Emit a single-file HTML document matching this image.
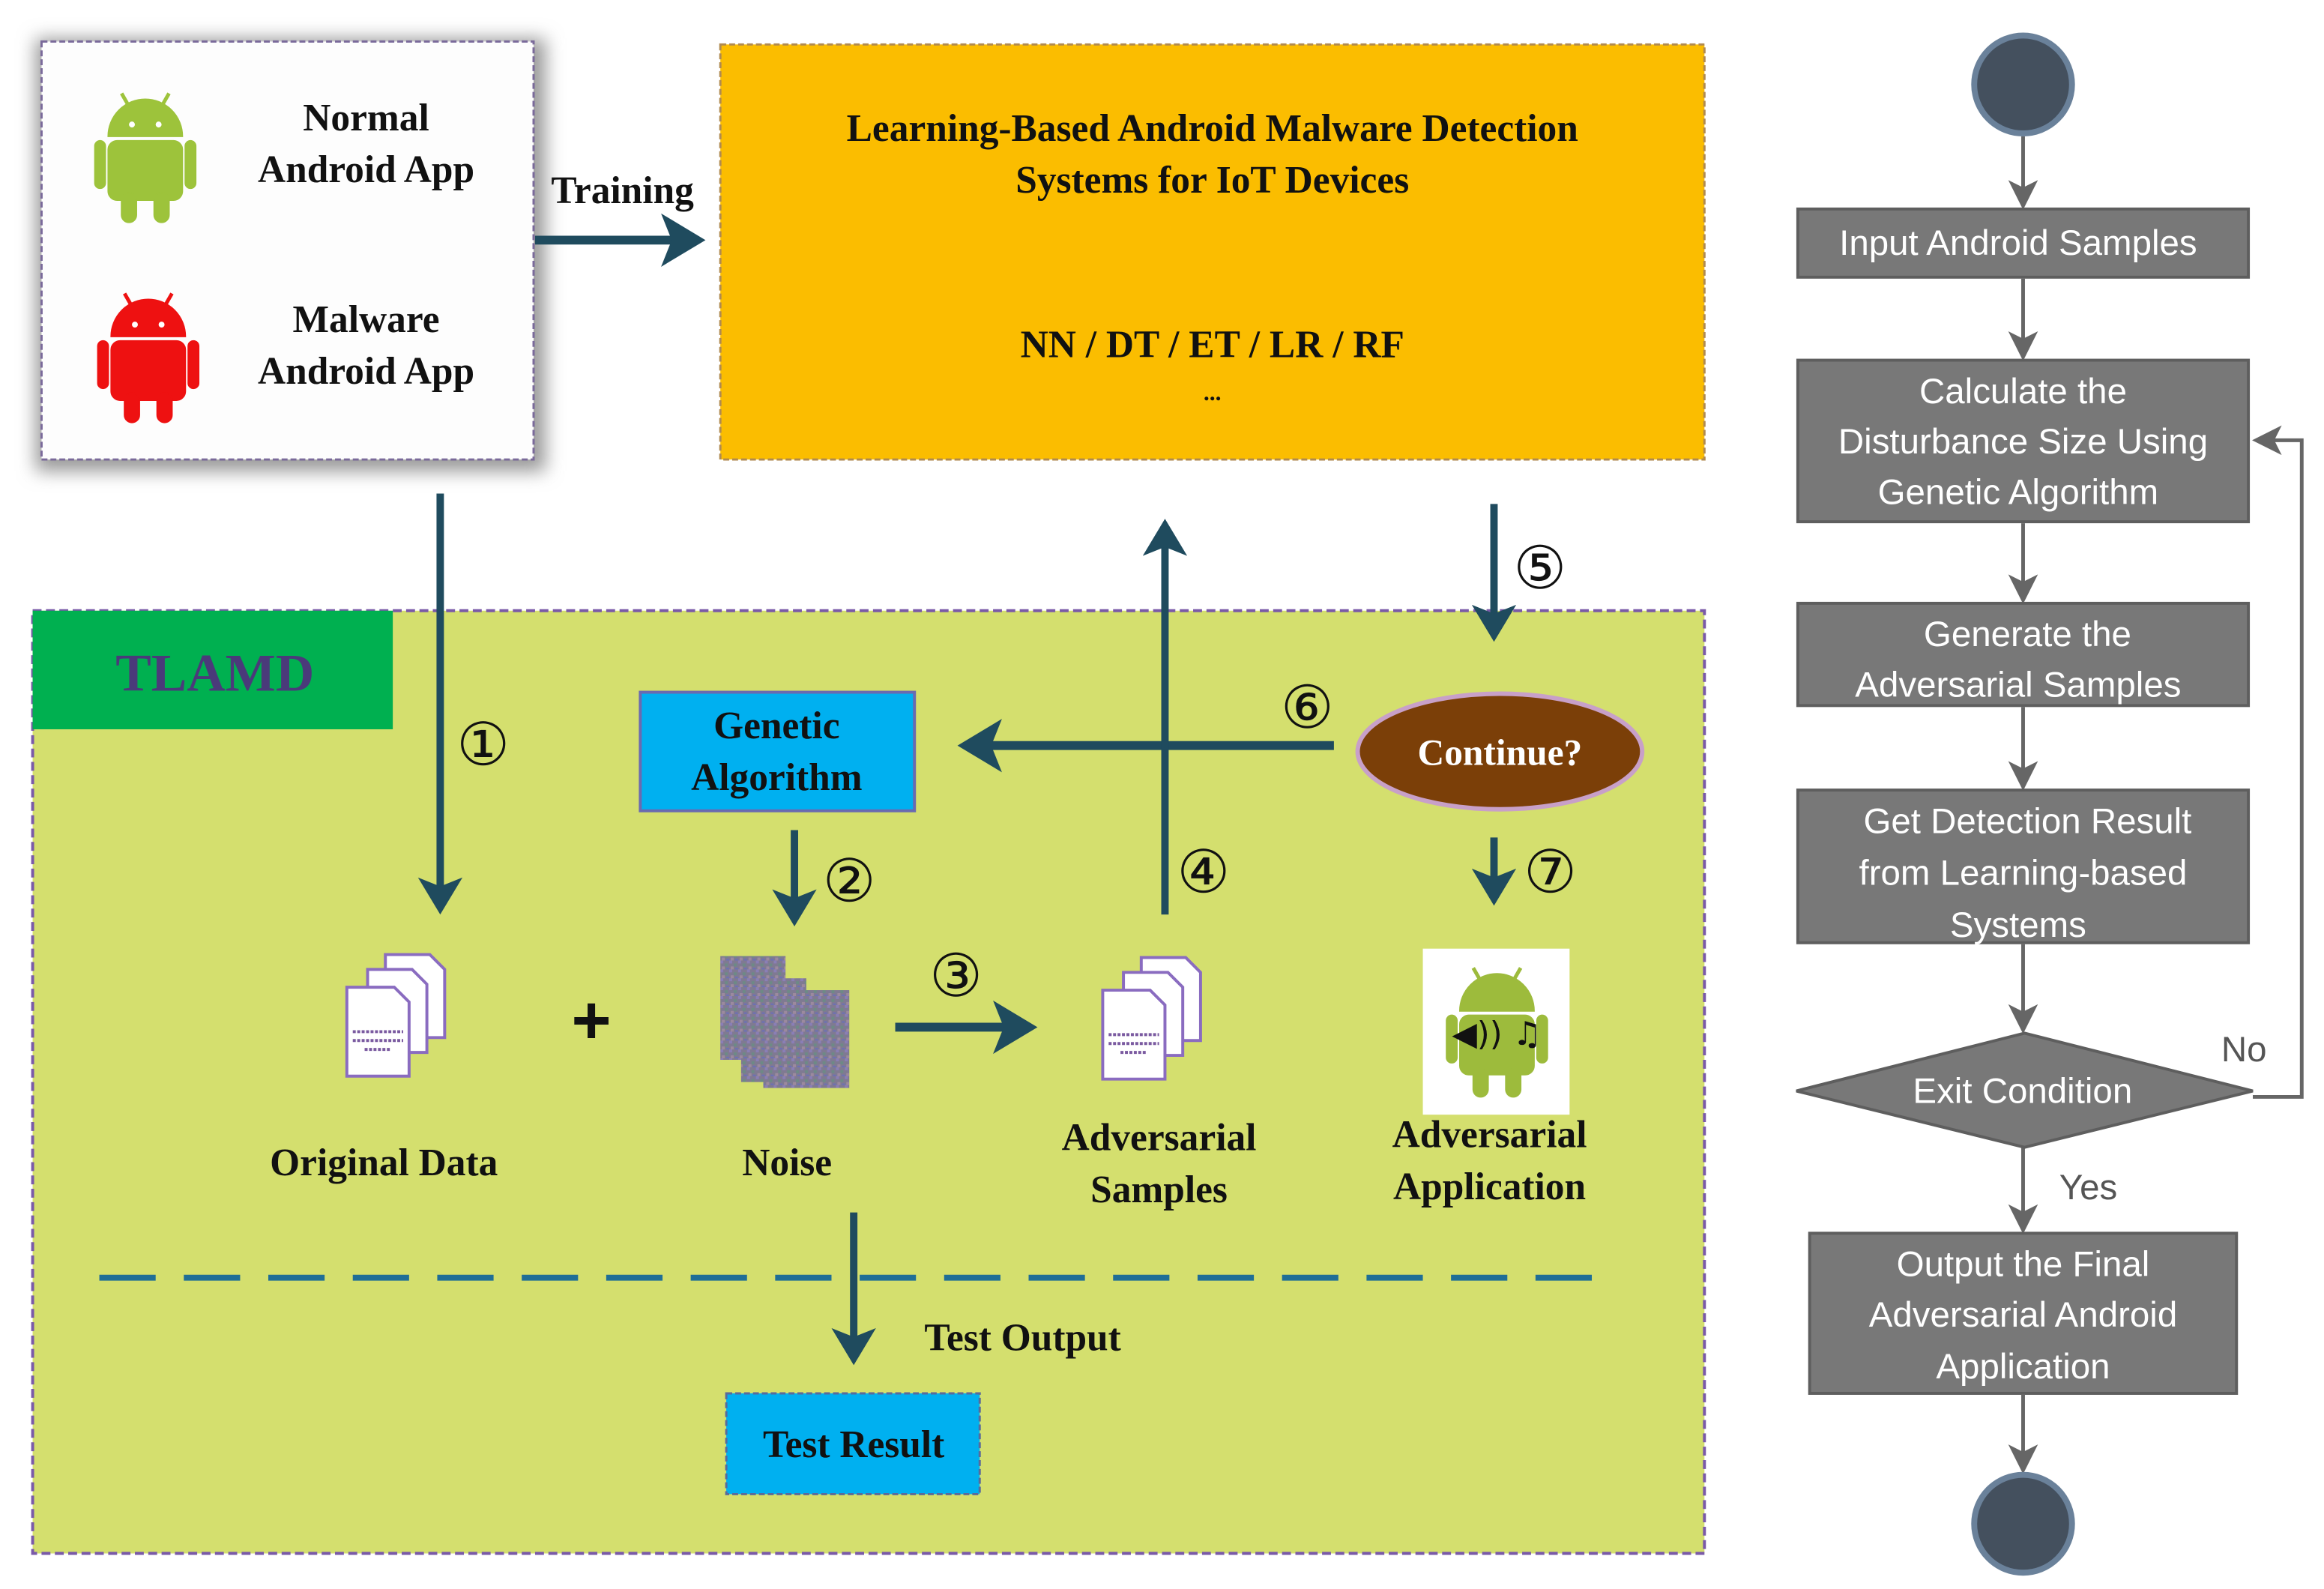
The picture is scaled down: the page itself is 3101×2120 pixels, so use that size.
<!DOCTYPE html>
<html><head><meta charset="utf-8"><style>
html,body{margin:0;padding:0;background:#fff;}
svg{display:block;}
.t{font-family:"Liberation Serif",serif;font-weight:bold;fill:#111;}
.f{font-family:"Liberation Sans",sans-serif;fill:#fff;font-size:24px;text-anchor:middle;}
.n{font-family:"DejaVu Sans",sans-serif;font-size:40px;fill:#111;text-anchor:middle;}
</style></head><body>
<svg width="3101" height="2120" viewBox="0 0 1568 1072" xmlns="http://www.w3.org/2000/svg">
<defs>
<marker id="ah" markerWidth="6" markerHeight="6" refX="4" refY="3" orient="auto" markerUnits="strokeWidth"><path d="M0,0 L5,3 L0,6 L1.2,3 z" fill="#1f4b5e"/></marker>
<marker id="ag" markerWidth="8" markerHeight="8" refX="7" refY="4" orient="auto" markerUnits="strokeWidth"><path d="M0,0 L8,4 L0,8 L2,4 z" fill="#666"/></marker>
<filter id="sh" x="-10%" y="-10%" width="120%" height="120%"><feGaussianBlur stdDeviation="6"/></filter>
<pattern id="nz" width="6" height="6" patternUnits="userSpaceOnUse"><rect width="6" height="6" fill="#7f7a92"/><rect x="0" y="0" width="2" height="2" fill="#8a7eb6"/><rect x="3" y="2" width="2" height="2" fill="#6d8a86"/><rect x="1" y="4" width="2" height="2" fill="#9c8a9e"/><rect x="4" y="5" width="2" height="1" fill="#6b6fb8"/></pattern>
<g id="droid">
<path d="M-25,-8 A25,25 0 0 1 25,-8 Z"/>
<line x1="-12" y1="-30" x2="-16" y2="-37" stroke-width="2.5"/><line x1="12" y1="-30" x2="16" y2="-37" stroke-width="2.5"/>
<rect x="-25" y="-5" width="50" height="40" rx="6"/>
<rect x="-34" y="-5" width="7" height="32" rx="3.5"/><rect x="27" y="-5" width="7" height="32" rx="3.5"/>
<rect x="-16" y="30" width="10" height="20" rx="5"/><rect x="6" y="30" width="10" height="20" rx="5"/>
</g>
<g id="docs">
<path d="M26,0 h30 l10,10 v46 h-40 z" fill="#fff" stroke="#8a6cc0" stroke-width="2"/>
<path d="M14,10 h30 l10,10 v46 h-40 z" fill="#fff" stroke="#8a6cc0" stroke-width="2"/>
<path d="M0,22 h32 l10,10 v50 h-42 z" fill="#fff" stroke="#8a6cc0" stroke-width="2"/>
<line x1="4" y1="52" x2="38" y2="52" stroke="#7a5aa0" stroke-width="2" stroke-dasharray="2,1"/>
<line x1="4" y1="58" x2="38" y2="58" stroke="#7a5aa0" stroke-width="2" stroke-dasharray="2,1"/>
<line x1="12" y1="64" x2="30" y2="64" stroke="#7a5aa0" stroke-width="2" stroke-dasharray="2,1"/>
</g>
</defs>
<rect width="1568" height="1072" fill="#fff"/>
<rect x="24" y="26" width="344" height="292" fill="#999" filter="url(#sh)"/>
<rect x="28" y="28" width="332" height="282" fill="#fdfdfd" stroke="#7a6a9a" stroke-width="1.5" stroke-dasharray="4,2"/>
<g fill="#9dc33b" stroke="#9dc33b"><use href="#droid" x="98" y="100"/></g>
<g fill="#ee1111" stroke="#ee1111"><use href="#droid" x="100" y="235"/></g>
<circle cx="89" cy="84" r="2" fill="#fff"/><circle cx="107" cy="84" r="2" fill="#fff"/>
<circle cx="91" cy="219" r="2" fill="#fff"/><circle cx="109" cy="219" r="2" fill="#fff"/>
<text class="t" font-size="26" text-anchor="middle"><tspan x="247" y="88">Normal</tspan><tspan x="247" y="123">Android App</tspan><tspan x="247" y="224">Malware</tspan><tspan x="247" y="259">Android App</tspan></text>
<text class="t" font-size="26" x="420" y="137" text-anchor="middle">Training</text>
<line x1="361" y1="162" x2="470" y2="162" stroke="#1f4b5e" stroke-width="6" marker-end="url(#ah)"/>
<rect x="486" y="30" width="664" height="280" fill="#fbbd00" stroke="#b08a50" stroke-width="1.5" stroke-dasharray="4,2"/>
<text class="t" font-size="26" text-anchor="middle"><tspan x="818" y="95">Learning-Based Android Malware Detection</tspan><tspan x="818" y="130">Systems for IoT Devices</tspan><tspan x="818" y="241">NN / DT  / ET  / LR / RF</tspan><tspan x="818" y="270" font-size="16">...</tspan></text>
<rect x="22" y="412" width="1128" height="636" fill="#d4df6e" stroke="#7a5aa8" stroke-width="2" stroke-dasharray="6,3"/>
<rect x="22" y="412" width="243" height="80" fill="#00b050"/>
<text x="145" y="466" font-family="Liberation Serif,serif" font-weight="bold" font-size="36" fill="#4a3a7a" text-anchor="middle">TLAMD</text>
<line x1="297" y1="333" x2="297" y2="612" stroke="#1f4b5e" stroke-width="5" marker-end="url(#ah)"/>
<text class="n" x="326" y="516">①</text>
<rect x="432" y="467" width="185" height="80" fill="#00b0f0" stroke="#6a6ab0" stroke-width="2"/>
<text class="t" font-size="26" text-anchor="middle"><tspan x="524" y="498">Genetic</tspan><tspan x="524" y="533">Algorithm</tspan></text>
<ellipse cx="1012" cy="507" rx="96" ry="39" fill="#7b3f08" stroke="#c8a0c8" stroke-width="3"/>
<text x="1012" y="516" font-family="Liberation Serif,serif" font-weight="bold" font-size="25" fill="#fff" text-anchor="middle">Continue?</text>
<line x1="900" y1="503" x2="652" y2="503" stroke="#1f4b5e" stroke-width="6" marker-end="url(#ah)"/>
<text class="n" x="882" y="491">⑥</text>
<line x1="786" y1="617" x2="786" y2="355" stroke="#1f4b5e" stroke-width="5" marker-end="url(#ah)"/>
<text class="n" x="812" y="602">④</text>
<line x1="1008" y1="340" x2="1008" y2="428" stroke="#1f4b5e" stroke-width="5" marker-end="url(#ah)"/>
<text class="n" x="1039" y="397">⑤</text>
<line x1="1008" y1="565" x2="1008" y2="606" stroke="#1f4b5e" stroke-width="5" marker-end="url(#ah)"/>
<text class="n" x="1046" y="602">⑦</text>
<line x1="536" y1="560" x2="536" y2="620" stroke="#1f4b5e" stroke-width="5" marker-end="url(#ah)"/>
<text class="n" x="573" y="608">②</text>
<line x1="604" y1="693" x2="694" y2="693" stroke="#1f4b5e" stroke-width="6" marker-end="url(#ah)"/>
<text class="n" x="645" y="672">③</text>
<use href="#docs" x="234" y="644"/>
<text x="399" y="704" font-family="Liberation Sans,sans-serif" font-weight="bold" font-size="46" fill="#111" text-anchor="middle">+</text>
<rect x="486" y="645" width="44" height="70" fill="url(#nz)"/>
<rect x="500" y="660" width="44" height="70" fill="url(#nz)"/>
<rect x="515" y="668" width="58" height="66" fill="url(#nz)"/>
<use href="#docs" x="744" y="646"/>
<rect x="960" y="640" width="99" height="112" fill="#fff"/>
<g fill="#9dbb3c" stroke="#9dbb3c"><use href="#droid" x="1010" y="690"/></g>
<text x="1010" y="705" font-family="DejaVu Sans,sans-serif" font-size="22" fill="#111" text-anchor="middle">◀)) ♫</text>
<text class="t" font-size="26" text-anchor="middle"><tspan x="259" y="793">Original Data</tspan><tspan x="531" y="793">Noise</tspan><tspan x="782" y="776">Adversarial</tspan><tspan x="782" y="811">Samples</tspan><tspan x="1005" y="774">Adversarial</tspan><tspan x="1005" y="809">Application</tspan></text>
<line x1="67" y1="862" x2="1092" y2="862" stroke="#1f6e96" stroke-width="4" stroke-dasharray="38,19"/>
<line x1="576" y1="818" x2="576" y2="916" stroke="#1f4b5e" stroke-width="5" marker-end="url(#ah)"/>
<text class="t" font-size="26" x="690" y="911" text-anchor="middle">Test Output</text>
<rect x="490" y="940" width="171" height="68" fill="#00b0f0" stroke="#5a6a9a" stroke-width="1.5" stroke-dasharray="4,2"/>
<text class="t" font-size="26" x="576" y="983" text-anchor="middle">Test Result</text>
<g stroke="#666" stroke-width="2.5" fill="none">
<line x1="1365" y1="92" x2="1365" y2="139" marker-end="url(#ag)"/>
<line x1="1365" y1="188" x2="1365" y2="241" marker-end="url(#ag)"/>
<line x1="1365" y1="353" x2="1365" y2="405" marker-end="url(#ag)"/>
<line x1="1365" y1="477" x2="1365" y2="531" marker-end="url(#ag)"/>
<line x1="1365" y1="637" x2="1365" y2="695" marker-end="url(#ag)"/>
<line x1="1365" y1="774" x2="1365" y2="830" marker-end="url(#ag)"/>
<line x1="1365" y1="941" x2="1365" y2="992" marker-end="url(#ag)"/>
<polyline points="1520,740 1553,740 1553,297 1522,297" marker-end="url(#ag)"/>
</g>
<circle cx="1365" cy="57" r="33" fill="#44505e" stroke="#6a819a" stroke-width="4"/>
<circle cx="1365" cy="1028" r="33" fill="#44505e" stroke="#6a819a" stroke-width="4"/>
<g fill="#787878" stroke="#5e5e5e" stroke-width="2">
<rect x="1213" y="141" width="304" height="46"/>
<rect x="1213" y="243" width="304" height="109"/>
<rect x="1213" y="407" width="304" height="69"/>
<rect x="1213" y="533" width="304" height="103"/>
<polygon points="1212,736 1366,697 1520,736 1366,774"/>
<rect x="1221" y="832" width="288" height="108"/>
</g>
<text class="f"><tspan x="1365" y="172">Input Android Samples</tspan>
<tspan x="1365" y="272">Calculate the</tspan><tspan x="1365" y="306">Disturbance Size  Using</tspan><tspan x="1365" y="340">Genetic Algorithm</tspan>
<tspan x="1368" y="436">Generate the</tspan><tspan x="1365" y="470">Adversarial Samples</tspan>
<tspan x="1368" y="562">Get Detection Result</tspan><tspan x="1365" y="597">from Learning-based</tspan><tspan x="1365" y="632">Systems</tspan>
<tspan x="1368" y="744">Exit Condition</tspan>
<tspan x="1365" y="861">Output the Final</tspan><tspan x="1365" y="895">Adversarial Android</tspan><tspan x="1365" y="930">Application</tspan></text>
<text x="1514" y="716" font-family="Liberation Sans,sans-serif" font-size="24" fill="#555" text-anchor="middle">No</text>
<text x="1409" y="809" font-family="Liberation Sans,sans-serif" font-size="24" fill="#555" text-anchor="middle">Yes</text>
</svg>
</body></html>
